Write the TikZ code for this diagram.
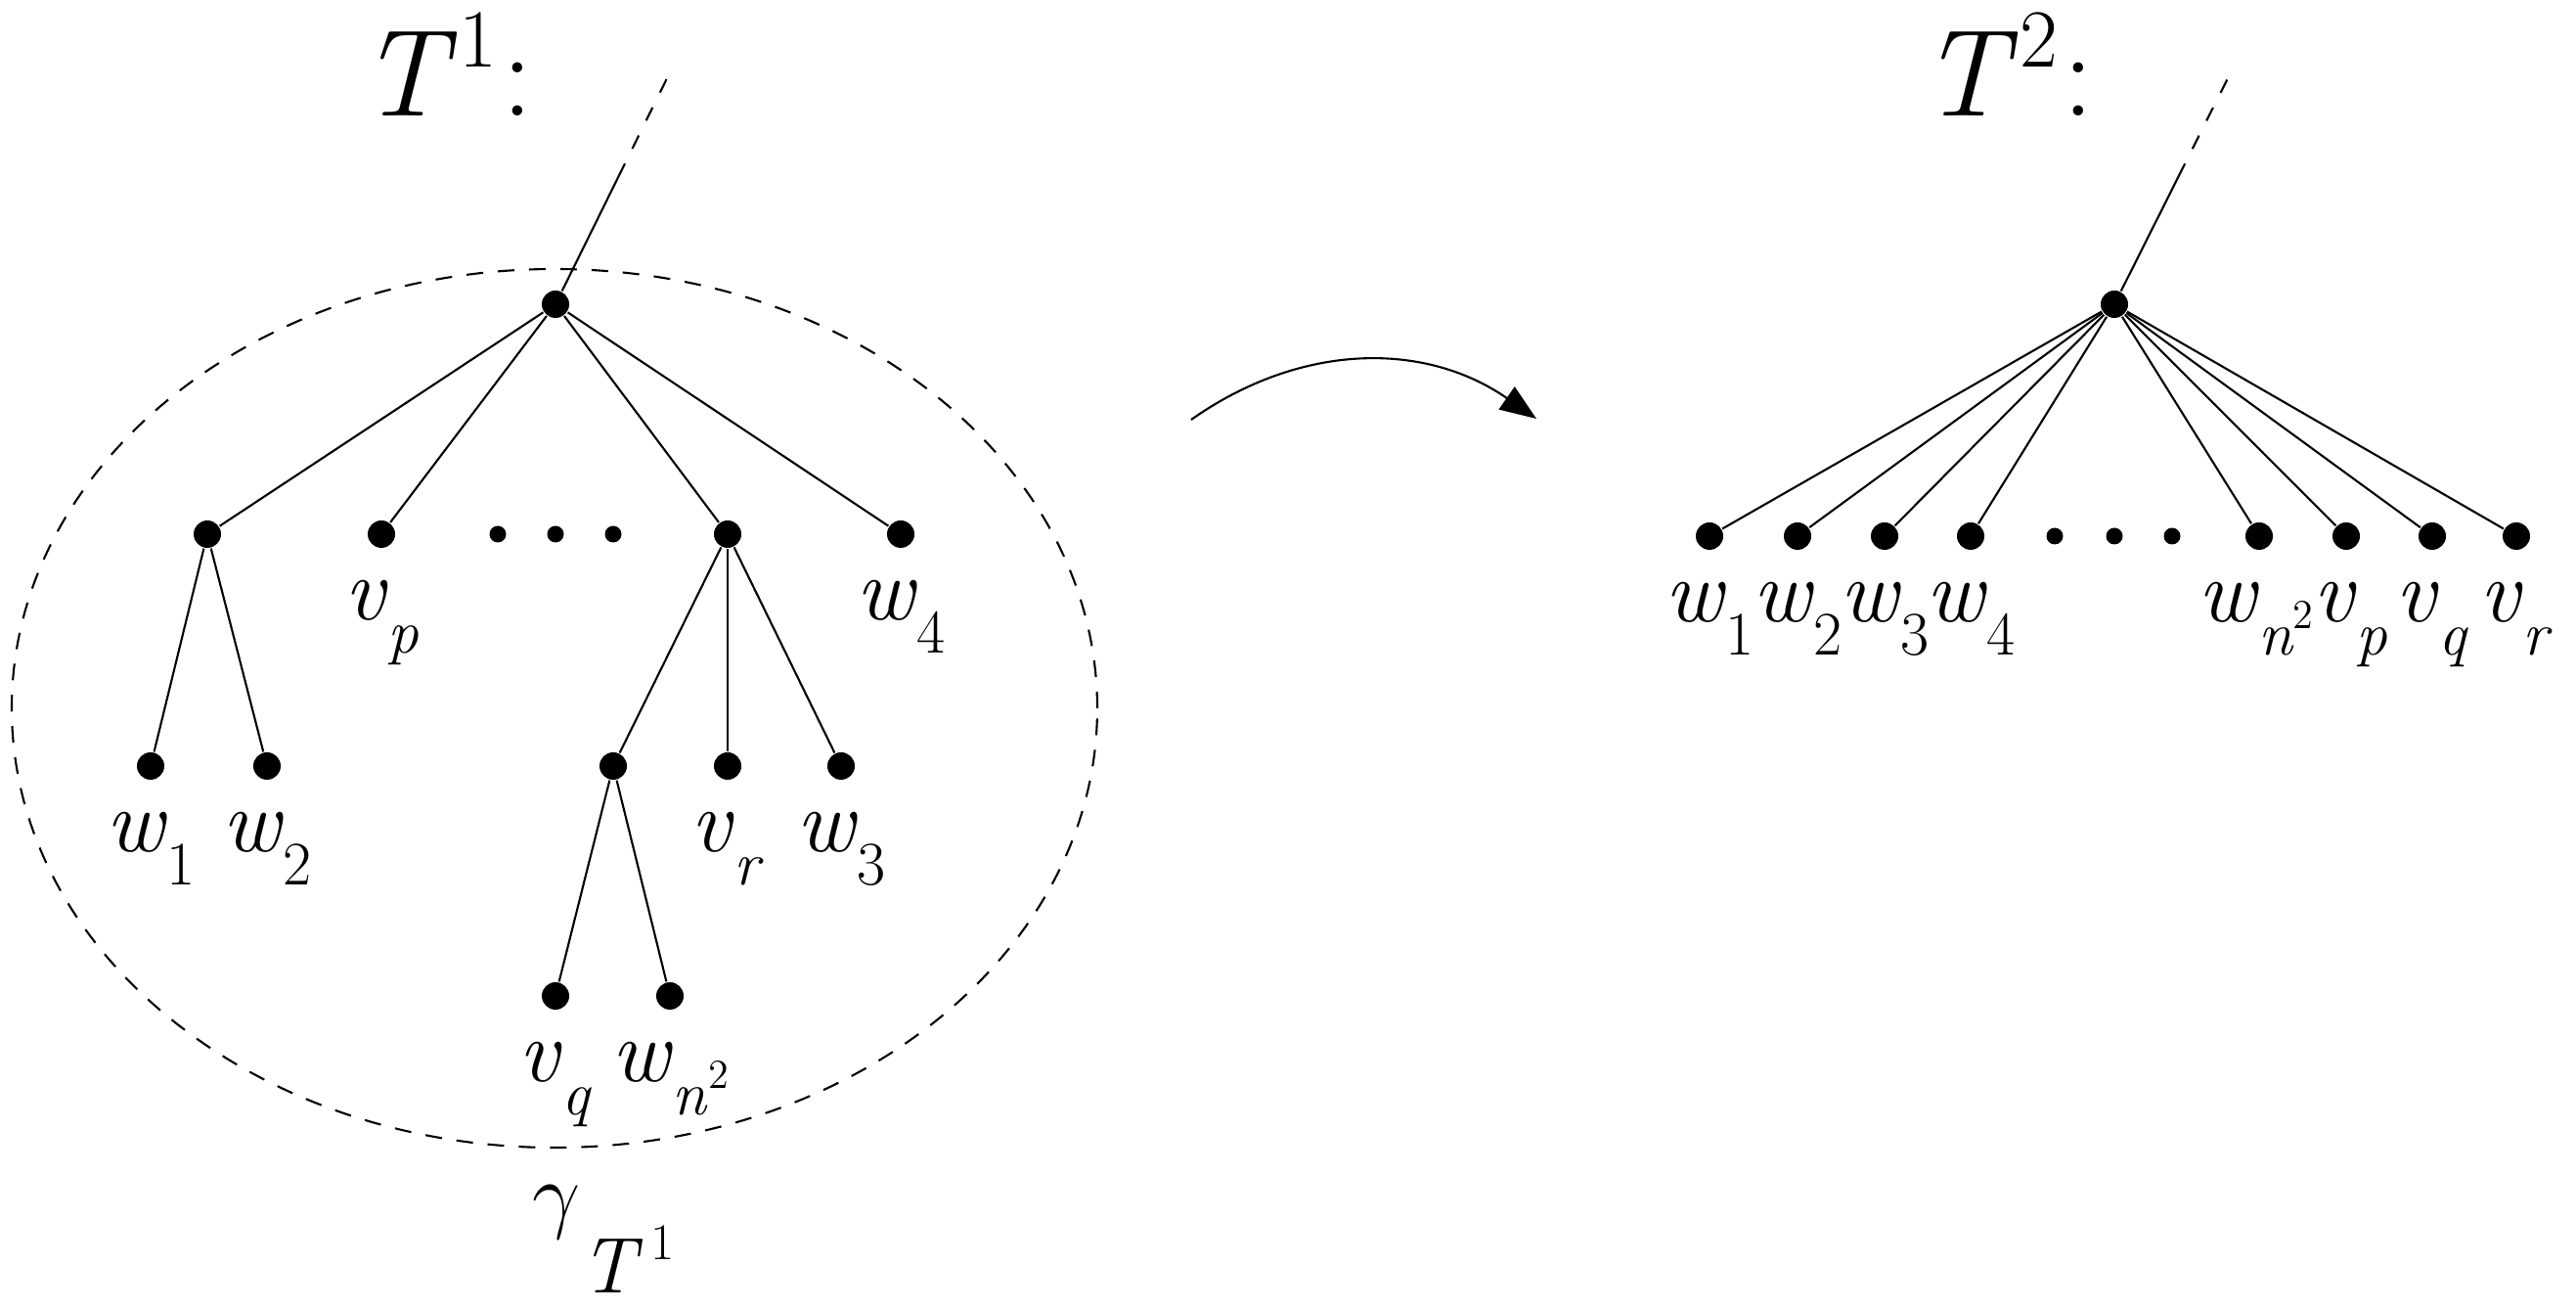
\documentclass[tikz,border=0pt]{standalone}
\usepackage{fontspec}
\usetikzlibrary{positioning,calc,arrows.meta}

% sub- and superscripts set by hand
\newcommand{\lsub}[1]{\raisebox{-0.34cm}{\fontsize{18}{18}\selectfont #1}}
\newcommand{\lsup}[1]{\raisebox{0.27cm}{\fontsize{12}{12}\selectfont #1}}

\tikzset{
  dot/.style={circle,fill,inner sep=0pt,minimum size=0.28cm},
  smalldot/.style={circle,fill,inner sep=0pt,minimum size=0.17cm},
  lbl/.style={inner sep=0pt,font=\fontsize{26}{30}\selectfont,text height=0.39cm,text depth=0pt},
  title/.style={inner sep=0pt,anchor=base west,font=\fontsize{36}{42}\selectfont},
  region/.style={dash pattern=on 0.17cm off 0.15cm},
  stem/.style={dash pattern=on 0.15cm off 0.17cm}
}

\begin{document}
\begin{tikzpicture}[line width=0.6pt]
    \useasboundingbox (0,0) rectangle (26.34,13.39);

    % Tree T^1
    \node[title] (t1) at (3.66,12.20) {\textit{T}\kern0.02cm\raisebox{0.50cm}{\fontsize{24}{24}\selectfont 1}\kern0.06cm:};

    \node[dot] (r1) at (5.68,10.28) {};
    \coordinate (top1) at (6.85,12.65);
    \coordinate (mid1) at ($(r1)!0.55!(top1)$);

    % first level
    \node[dot] (a) at (2.12,7.93) {};
    \node[dot] (vp) at (3.90,7.93) {};
    \node[smalldot] (e1) at (5.09,7.93) {};
    \node[smalldot] (e2) at (5.68,7.93) {};
    \node[smalldot] (e3) at (6.27,7.93) {};
    \node[dot] (c) at (7.44,7.93) {};
    \node[dot] (w4) at (9.21,7.93) {};

    % second level
    \node[dot] (w1) at (1.54,5.56) {};
    \node[dot] (w2) at (2.73,5.56) {};
    \node[dot] (d) at (6.27,5.56) {};
    \node[dot] (vr) at (7.44,5.56) {};
    \node[dot] (w3) at (8.60,5.56) {};

    % third level
    \node[dot] (vq) at (5.68,3.21) {};
    \node[dot] (wn) at (6.85,3.21) {};

    % Edges of T^1
    \draw (r1) -- (mid1);
    \draw[stem] (mid1) -- (top1);
    \draw (r1) -- (a);
    \draw (r1) -- (vp);
    \draw (r1) -- (c);
    \draw (r1) -- (w4);
    \draw (a) -- (w1);
    \draw (a) -- (w2);
    \draw (c) -- (d);
    \draw (c) -- (vr);
    \draw (c) -- (w3);
    \draw (d) -- (vq);
    \draw (d) -- (wn);

    % Labels of T^1
    \node[lbl, below=0.32 of vp] (lvp) {\textit{v}\lsub{\textit{p}}};
    \node[lbl, below=0.32 of w4] (lw4) {\textit{w}\lsub{4}};
    \node[lbl, below=0.32 of w1] (lw1) {\textit{w}\lsub{1}};
    \node[lbl, below=0.32 of w2] (lw2) {\textit{w}\lsub{2}};
    \node[lbl, below=0.32 of vr] (lvr) {\textit{v}\lsub{\textit{r}}};
    \node[lbl, below=0.32 of w3] (lw3) {\textit{w}\lsub{3}};
    \node[lbl, below=0.32 of vq] (lvq) {\textit{v}\lsub{\textit{q}}};
    \node[lbl, below=0.32 of wn] (lwn) {\textit{w}\lsub{\textit{n}\lsup{2}}};

    % The dashed region gamma
    \draw[region] (5.67,6.15) ellipse [x radius=5.55, y radius=4.49];
    \node[inner sep=0pt,anchor=base west,font=\fontsize{27}{30}\selectfont] (gam) at (5.43,0.89)
        {$\gamma$\raisebox{-0.72cm}{\fontsize{23}{23}\selectfont\textit{T}}\kern0.08cm\raisebox{-0.38cm}{\fontsize{15}{15}\selectfont 1}};

    % Arrow
    \coordinate (a1) at (12.18,9.10);
    \coordinate (a2) at (15.71,9.11);
    \draw[-{Triangle[length=0.37cm,width=0.28cm]}] (a1) to[bend left=35] (a2);

    % Tree T^2
    \node[title] (t2) at (19.62,12.20) {\textit{T}\kern0.02cm\raisebox{0.50cm}{\fontsize{24}{24}\selectfont 2}\kern0.06cm:};

    \node[dot] (r2) at (21.62,10.28) {};
    \coordinate (top2) at (22.81,12.65);
    \coordinate (mid2) at ($(r2)!0.55!(top2)$);

    \node[dot] (u1) at (17.48,7.91) {};
    \node[dot] (u2) at (18.38,7.91) {};
    \node[dot] (u3) at (19.27,7.91) {};
    \node[dot] (u4) at (20.15,7.91) {};
    \node[smalldot] (f1) at (21.01,7.91) {};
    \node[smalldot] (f2) at (21.62,7.91) {};
    \node[smalldot] (f3) at (22.21,7.91) {};
    \node[dot] (un) at (23.10,7.91) {};
    \node[dot] (up) at (23.99,7.91) {};
    \node[dot] (uq) at (24.87,7.91) {};
    \node[dot] (ur) at (25.73,7.91) {};

    % Edges of T^2
    \draw (r2) -- (mid2);
    \draw[stem] (mid2) -- (top2);
    \draw (r2) -- (u1);
    \draw (r2) -- (u2);
    \draw (r2) -- (u3);
    \draw (r2) -- (u4);
    \draw (r2) -- (un);
    \draw (r2) -- (up);
    \draw (r2) -- (uq);
    \draw (r2) -- (ur);

    % Labels of T^2
    \node[lbl, below=0.32 of u1] (lu1) {\textit{w}\lsub{1}};
    \node[lbl, below=0.32 of u2] (lu2) {\textit{w}\lsub{2}};
    \node[lbl, below=0.32 of u3] (lu3) {\textit{w}\lsub{3}};
    \node[lbl, below=0.32 of u4] (lu4) {\textit{w}\lsub{4}};
    \node[lbl, below=0.32 of un, xshift=-0.04cm] (lun) {\textit{w}\lsub{\textit{n}\kern-0.02cm\lsup{2}}};
    \node[lbl, below=0.32 of up, xshift=0.04cm] (lup) {\textit{v}\lsub{\textit{p}}};
    \node[lbl, below=0.32 of uq] (luq) {\textit{v}\lsub{\textit{q}}};
    \node[lbl, below=0.32 of ur] (lur) {\textit{v}\lsub{\textit{r}}};

\end{tikzpicture}
\end{document}
